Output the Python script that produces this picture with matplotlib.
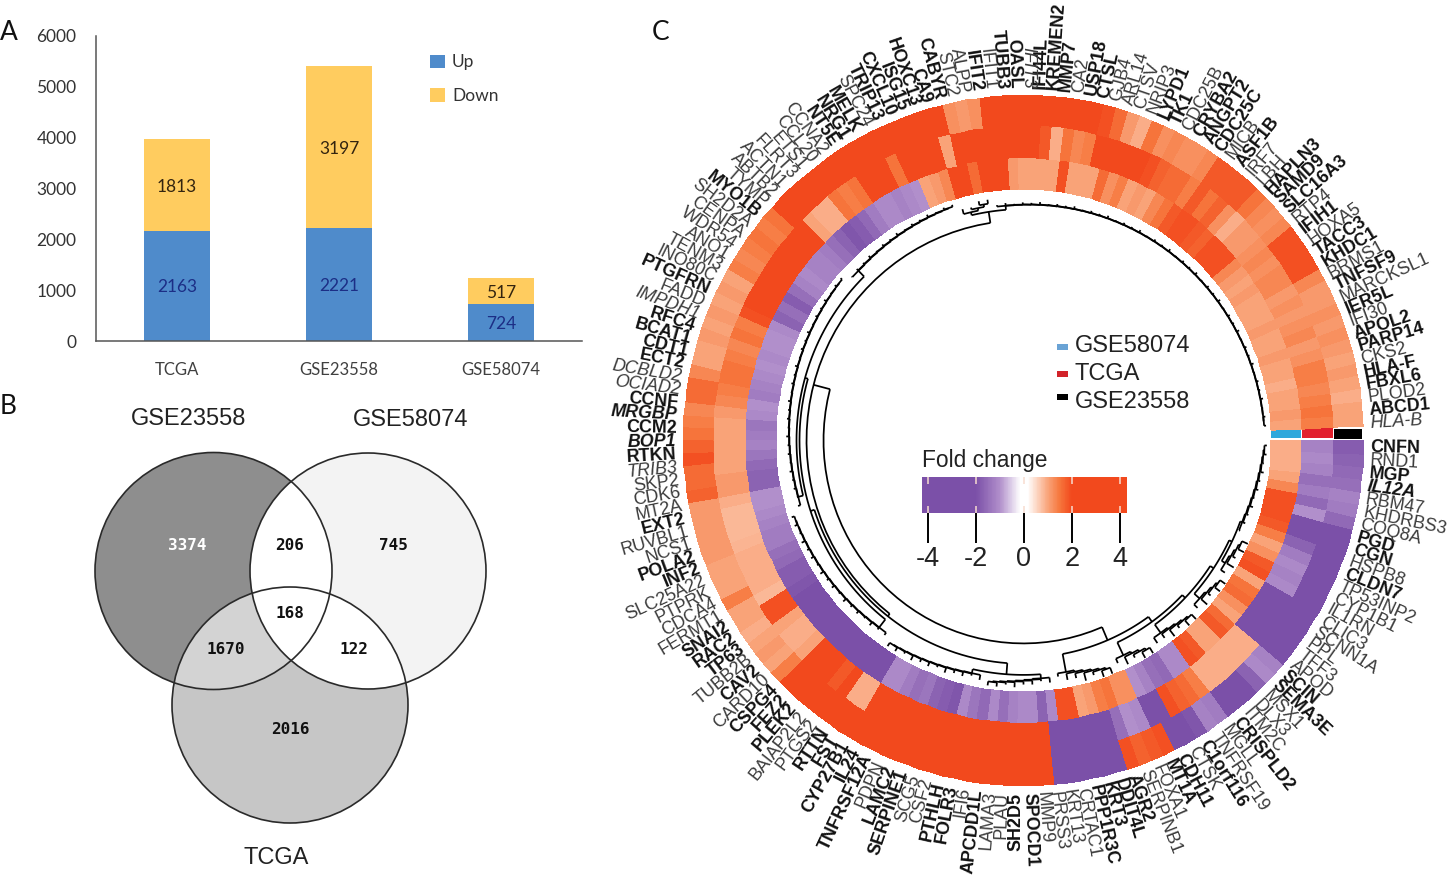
import numpy as np
import matplotlib
matplotlib.use('Agg')
import matplotlib.pyplot as plt
from matplotlib.cm import ScalarMappable
from matplotlib.colors import LinearSegmentedColormap, Normalize
from matplotlib.patches import Circle, Rectangle

W, H = 1450, 883

# A) stacked bars
datasets = ['TCGA', 'GSE23558', 'GSE58074']
up_counts = [2163, 2221, 724]
down_counts = [1813, 3197, 517]

# B) venn
venn_names = ['GSE23558', 'GSE58074', 'TCGA']
venn_counts = [3374, 745, 2016, 206, 1670, 122, 168]

# C) circular heatmap, genes run counter clockwise from the gap at 3 o'clock
genes = ['HLA-B', 'ABCD1', 'PLOD2', 'FBXL6', 'HLA-F', 'CKS2', 'PARP14', 'APOL2', 'IFI30', 'IER5L',
         'MARCKSL1', 'TNFSF9', 'BRMS1', 'KHDC1', 'TACC3', 'HOXA5', 'IFIH1', 'RTP4', 'SLC16A3', 'SAMD9',
         'HAPLN3', 'LBH', 'IRF7', 'ASF1B', 'MICB', 'CDC25C', 'ANGPT2', 'CRYBA2', 'CDC25B', 'TK1',
         'LYPD1', 'NRIP3', 'CTSV', 'ARL14', 'GJB4', 'CTSL', 'USP18', 'CA2', 'MMP7', 'KREMEN2',
         'IFI44L', 'IFIT3', 'OASL', 'TUBB3', 'IFIT1', 'IFIT2', 'ALPP', 'STC2', 'CABYR', 'CA9',
         'HOXC13', 'ISG15', 'CXCL10', 'TRIP13', 'SPC24', 'MELK', 'NRG1', 'NT5E', 'CCNA2', 'CCL20',
         'ETS1', 'FLRT3', 'ACTN1', 'ABTB2', 'TYMP', 'MYO1B', 'SH2D2A', 'CENPA', 'WDR54', 'ANO1',
         'TENM3', 'INO80C', 'PTGFRN', 'FADD', 'IMPDH1', 'RFC4', 'BCAT1', 'CDT1', 'ECT2', 'DCBLD2',
         'OCIAD2', 'CCNF', 'MRGBP', 'CCM2', 'BOP1', 'RTKN', 'TRIB3', 'SKP2', 'CDK6', 'MT2A',
         'EXT2', 'RUVBL1', 'NCS1', 'POLA2', 'INF2', 'SLC25A22', 'PTPRK', 'CDCA4', 'FERMT1', 'SNAI2',
         'RAC2', 'TP63', 'TUBB2B', 'CAV2', 'CARD10', 'CSPG4', 'FEZ2', 'PLEK2', 'BAIAP2L2', 'PTGS2',
         'RTTN', 'FST', 'CYP27B1', 'IL24', 'TNFRSF12A', 'PDPN', 'LAMC2', 'SERPINE1', 'SCG5', 'CSF2',
         'PTHLH', 'FOLR3', 'IFI6', 'APCDD1L', 'LAMA3', 'PLAU', 'SH2D5', 'SPOCD1', 'MMP9', 'PRSS3',
         'KRT13', 'CRTAC1', 'PPP1R3C', 'KRT3', 'DDIT4L', 'AGR2', 'SERPINB1', 'FOXA1', 'MT1A', 'CDH11',
         'CTSK', 'C1orf116', 'TNFRSF19', 'MGLL', 'CRISPLD2', 'ITM2C', 'DLX3', 'MSX1', 'SEMA3E', 'SCIN',
         'APOD', 'TFF3', 'PPL', 'SCNN1A', 'CLIC3', 'IL1RN', 'CYP1B1', 'TP53INP2', 'CLDN7', 'HSPB8',
         'CGN', 'PGD', 'COQ8A', 'KHDRBS3', 'RBM47', 'IL12A', 'MGP', 'RND1', 'CNFN']

bold_genes = ['ABCD1', 'FBXL6', 'HLA-F', 'PARP14', 'APOL2', 'IER5L', 'TNFSF9', 'KHDC1', 'TACC3', 'IFIH1',
              'SLC16A3', 'SAMD9', 'HAPLN3', 'ASF1B', 'CDC25C', 'ANGPT2', 'CRYBA2', 'TK1', 'LYPD1', 'CTSL',
              'USP18', 'MMP7', 'KREMEN2', 'IFI44L', 'OASL', 'TUBB3', 'IFIT2', 'CABYR', 'CA9', 'HOXC13',
              'ISG15', 'CXCL10', 'TRIP13', 'MELK', 'NRG1', 'NT5E', 'MYO1B', 'PTGFRN', 'RFC4', 'BCAT1',
              'CDT1', 'ECT2', 'CCNF', 'MRGBP', 'CCM2', 'BOP1', 'RTKN', 'EXT2', 'POLA2', 'INF2', 'SNAI2',
              'RAC2', 'TP63', 'CAV2', 'CSPG4', 'FEZ2', 'PLEK2', 'RTTN', 'FST', 'CYP27B1', 'IL24',
              'TNFRSF12A', 'LAMC2', 'SERPINE1', 'PTHLH', 'FOLR3', 'APCDD1L', 'SH2D5', 'SPOCD1', 'PPP1R3C',
              'KRT3', 'DDIT4L', 'AGR2', 'MT1A', 'CDH11', 'C1orf116', 'CRISPLD2', 'SEMA3E', 'SCIN', 'PGD',
              'CGN', 'CLDN7', 'IL12A', 'MGP', 'CNFN']
italic_genes = ['HLA-B', 'IFIT3', 'BOP1', 'TRIB3', 'IMPDH1', 'DCBLD2', 'OCIAD2', 'MRGBP', 'IL12A']

fc_gse23558 = [1.0, 1.0, 0.9, 1.0, 1.1, 1.0, 1.1, 1.2, 1.1, 1.2,
               1.1, 1.1, 1.3, 1.9, 1.9, 1.9, 1.9, 1.3, 1.2, 1.3,
               1.5, 1.8, 1.8, 1.8, 1.8, 1.3, 1.2, 1.2, 1.3, 1.2,
               1.5, 0.9, 1.1, 1.6, 1.9, 2, 2, 2, 2, 2,
               2, 2, 2, 2, 2, 1.2, 1.1, 1.2, 2, 2,
               2, 2, 2, 2, 2, 2, 2, 2, 2, 2,
               2, 2, 2, 2, 1.5, 1.4, 1.5, 1.4, 1.3, 1.4,
               1.0, 1.1, 1.0, 1.1, 1.0, 1.1, 1.0, 1.0, 1.3, 1.6,
               1.6, 1.3, 1.4, 1.5, 1.7, 1.9, 1.6, 1.6, 1.7, 1.1,
               1.1, 1.1, 1.1, 1.1, 1.0, 1.0, 1.0, 1.4, 1.0, 1.0,
               0.9, 1.0, 1.1, 1.0, 1.4, 2, 2, 2, 2, 2,
               2, 2, 2, 2, 2, 2, 2, 2, 2, 2,
               2, 2, 2, 2, 2, 2, 2, 2, 2, -2,
               -2, -2, -2, -2, -2, 1.9, 1.7, 1.8, 1.9, -2,
               -2, -1.9, -1.2, -1.3, -2, -2, -2, -1.7, -1.1, -1.2,
               -2, -2, -2, -2, -2, -2, -2, -2, -2, -2,
               -2, -2, -1.6, -1.3, -1.2, -1.5, -1.6, -1.7, -1.8]
fc_tcga = [1.4, 1.5, 1.4, 1.3, 1.4, 1.4, 1.2, 1.1, 1.3, 1.2,
           1.1, 1.2, 1.1, 1.3, 1.3, 1.2, 1.3, 1.2, 1.1, 1.1,
           0.9, 1.2, 1.7, 1.5, 1.8, 1.4, 1.6, 1.6, 1.7, 1.9,
           2, 2, 2, 2, 2, 1.4, 1.3, 1.5, 0.9, 1.8,
           2, 2, 2, 2, 2, 2, 2, 2, 1.0, 2,
           2, 2, 2, 1.5, 2, 2, 2, 1.5, 1.4, 1.5,
           0.9, 0.9, 1.0, 2, 2, 2, 2, 2, 2, 2,
           2, 2, 1.9, 1.4, 1.5, 1.3, 1.4, 1.5, 1.5, 1.4,
           1.3, 1.1, 1.0, 1.0, 1.0, 1.0, 1.0, 1.1, 1.1, 0.9,
           0.8, 0.8, 0.8, 0.85, 0.9, 0.9, 0.9, 0.9, 0.8, 1.9,
           1.9, 1.0, 0.9, 0.9, 1.0, 2, 2, 2, 1.8, 2,
           0.9, 0.9, 2, 2, 2, 2, 2, 2, 2, 2,
           2, 2, 2, 2, 2, 2, 2, 2, 2, -2,
           -2, -2, -2, -2, -2, -1.5, -1.0, -1.1, -2, -2,
           1.9, 1.7, 1.6, 1.4, 0.9, 0.9, 0.9, 0.9, 0.9, 0.9,
           -2, -2, -2, -2, -2, -1.1, -1.2, -1.1, -1.3, -1.7,
           -2, -2, -1.0, -1.6, -1.3, -1.5, -1.2, -1.1, -1.2]
fc_gse58074 = [1.0, 1.1, 1.0, 1.0, 0.9, 1.0, 1.0, 1.1, 1.0, 1.0,
               1.1, 1.0, 1.0, 1.0, 1.1, 1.0, 1.1, 1.3, 1.9, 1.9,
               1.9, 1.7, 1.8, 1.9, 1.9, 1.8, 1.5, 1.3, 1.0, 1.1,
               1.0, 1.4, 1.2, 1.6, 1.0, 1.0, 1.0, 1.9, 1.0, 1.0,
               1.0, 1.0, 1.1, 2, 2, 2, 1.6, 2, 2, 1.3,
               1.1, 1.0, -1.0, -1.1, -1.2, -1.1, -1.1, -1.3, -1.6, -1.8,
               -1.9, -1.7, -1.5, -1.3, -1.2, -1.2, -1.1, -1.2, -1.5, -1.8,
               -1.5, -1.7, -1.1, -1.0, -1.0, -1.1, -1.0, -1.1, -1.2, -1.3,
               -1.0, -1.1, -1.4, -1.3, -1.2, -1.4, -1.6, -1.7, -1.7, -1.0,
               -1.0, -1.1, -1.2, -1.3, -1.3, -1.5, -1.6, -1.8, -1.8, -1.9,
               -2, -2, -2, -2, -2, -2, -2, -2, -2, -2,
               -2, -2, -1.1, -1.1, -1.3, -1.5, -1.4, -1.7, -1.8, -1.9,
               -1.1, -1.4, -1.6, -1.1, -1.5, -1.2, -1.1, -1.1, -1.7, -1.1,
               1.9, 1.9, 1.0, 1.1, 1.4, 1.5, 1.2, 1.2, -1.0, -1.2,
               -1.5, -1.6, -1.1, -1.1, 1.9, 1.8, 1.0, 1.0, 1.8, 1.6,
               1.0, 1.2, 1.6, 1.5, 1.0, 1.9, 1.8, 1.2, 1.0, 1.4,
               1.8, 1.9, 1.9, 1.9, 1.3, 1.0, 0.9, 0.9, 0.9]

legend_sets = ['GSE58074', 'TCGA', 'GSE23558']
legend_colors = ['#6AA3D5', '#D2232A', '#000000']
strip_colors = ['#2FA8DC', '#E2202C', '#000000']
fc_ticks = [-4, -2, 0, 2, 4]
fc_ticklabels = ['-4', '-2', '0', '2', '4']

# dendrogram, each comb is a run of genes hanging on a ladder of arcs
comb_first = [0, 45, 49, 64, 92, 110, 122, 130, 137, 142, 148, 153, 158]
comb_last = [44, 48, 63, 91, 109, 121, 129, 136, 141, 147, 152, 157, 168]
comb_r_out = [241, 236, 241, 241, 241, 240, 240, 240, 240, 240, 240, 240, 241]
comb_r_in = [232, 231, 235, 232, 234, 235, 235, 232, 234, 234, 235, 235, 233]
comb_reverse = [0, 0, 0, 0, 0, 0, 0, 1, 1, 1, 1, 1, 1]
comb_tooth = [0.5, 1, 0.5, 0.5, 0.7, 1, 1, 1.6, 1.6, 1.6, 1.6, 1.6, 0.6]
teeth = [4, 2, 5, 3]


plt.rcParams['font.family'] = 'Liberation Sans'


def px_axes(x0, y0, x1, y1, **kw):
    # box in picture pixels, y going down
    return fig.add_axes([x0 / W, 1 - y1 / H, (x1 - x0) / W, (y1 - y0) / H], **kw)


fig = plt.figure(figsize=(W / 100, H / 100), dpi=100, facecolor='white')

# overlay in pixels for letters, venn and legends
ov = px_axes(0, 0, W, H)
ov.set_xlim(0, W)
ov.set_ylim(H, 0)
ov.axis('off')
for letter, x, y in [('A', 9, 32), ('B', 8, 406), ('C', 661, 32)]:
    ov.text(x, y, letter, family='Lato', fontsize=19, ha='center', va='center', color='#111111')

# ---- A ----
ax_a = px_axes(96, 36, 582, 341)
x = np.arange(len(datasets))
ax_a.bar(x, up_counts, width=0.405, color='#4F8BCB', label='Up')
ax_a.bar(x, down_counts, width=0.405, bottom=up_counts, color='#FFCC5F', label='Down')
for i in range(len(datasets)):
    ax_a.text(x[i], up_counts[i] / 2 - 25, str(up_counts[i]), ha='center', va='center',
              family='Lato', fontsize=12.5, color='#1C2E86')
    ax_a.text(x[i], up_counts[i] + down_counts[i] / 2 - 35, str(down_counts[i]), ha='center', va='center',
              family='Lato', fontsize=12.5, color='#33240F')
ax_a.set_xlim(-0.5, 2.5)
ax_a.set_ylim(0, 6000)
ax_a.set_xticks(x)
ax_a.set_xticklabels(datasets, family='Lato', fontsize=12, color='#404040')
ax_a.set_yticks(np.arange(0, 7000, 1000))
ax_a.tick_params(axis='x', length=0, pad=15)
ax_a.tick_params(axis='y', length=0, pad=14)
for lab in ax_a.get_yticklabels():
    lab.set_family('Lato')
    lab.set_fontsize(12.5)
    lab.set_color('#333333')
ax_a.spines['top'].set_visible(False)
ax_a.spines['right'].set_visible(False)
ax_a.spines['left'].set_color('#555555')
ax_a.spines['bottom'].set_color('#555555')
ax_a.spines['left'].set_linewidth(1.1)
ax_a.spines['bottom'].set_linewidth(1.1)
ax_a.legend(loc='upper left', bbox_to_anchor=(0.67, 0.968), frameon=False, handlelength=0.85,
            handleheight=0.85, handletextpad=0.4, labelspacing=1.0, borderpad=0,
            prop={'family': 'Lato', 'size': 12.5}, labelcolor='#333333')

# ---- B ----
c_left = (213.5, 571, 118.5)
c_right = (368, 571, 118)
c_bottom = (290, 705, 118)


def disc(c, **kw):
    patch = Circle((c[0], c[1]), c[2], **kw)
    ov.add_patch(patch)
    return patch


disc(c_left, fc='#8E8E8E', ec='none')
disc(c_right, fc='#F3F3F3', ec='none')
disc(c_bottom, fc='#C6C6C6', ec='none')
overlap = disc(c_left, fc='#D3D3D3', ec='none')
overlap.set_clip_path(Circle((c_bottom[0], c_bottom[1]), c_bottom[2], transform=ov.transData))
overlap = disc(c_left, fc='white', ec='none')
overlap.set_clip_path(Circle((c_right[0], c_right[1]), c_right[2], transform=ov.transData))
overlap = disc(c_bottom, fc='white', ec='none')
overlap.set_clip_path(Circle((c_right[0], c_right[1]), c_right[2], transform=ov.transData))
for c in (c_left, c_right, c_bottom):
    disc(c, fc='none', ec='#2A2A2A', lw=1.2)

venn_xy = [(187, 545), (393, 545), (290, 729), (290, 545), (226, 650), (354, 650), (290, 614)]
for n, (vx, vy) in zip(venn_counts, venn_xy):
    ov.text(vx, vy, str(n), family='DejaVu Sans Mono', weight='bold', fontsize=11.5, ha='center', va='center',
            color='white' if n == 3374 else '#111111')
for name, vx, vy in zip(venn_names, (189, 411, 276), (419, 420, 858)):
    ov.text(vx, vy, name, fontsize=17, ha='center', va='center', color='#222222')

# ---- C ----
cx, cy = 1023.5, 440.5
rmax = 380
ax_c = px_axes(cx - rmax, cy - rmax * 345 / 340, cx + rmax, cy + rmax * 345 / 340, projection='polar')
ax_c.set_aspect('auto')
ax_c.set_ylim(0, rmax)
ax_c.axis('off')

purple = '#7B50A8'
deep = '#F2491D'
fc_low, fc_high = -4.25, 4.3
norm = Normalize(fc_low, fc_high)


def node(v):
    return (v - fc_low) / (fc_high - fc_low)


cmap = LinearSegmentedColormap.from_list('fold', [(0, purple), (node(-2), purple), (node(-1), '#B18FCB'),
                                                  (node(-0.15), 'white'), (node(0.15), 'white'),
                                                  (node(1), '#F9A47A'), (node(1.5), '#F6763C'),
                                                  (node(2), deep), (1, deep)])

n_genes = len(genes)
start_deg = 2.4
step_deg = (359.9 - start_deg) / n_genes
edges = np.radians(start_deg + step_deg * np.arange(n_genes + 1))
centers = (edges[:-1] + edges[1:]) / 2
ring_edges = [248, 279, 311, 340]
for k, vals in enumerate((fc_gse58074, fc_tcga, fc_gse23558)):
    ax_c.pcolormesh(edges, ring_edges[k:k + 2], np.array(vals)[None, :], cmap=cmap, norm=norm,
                    shading='flat', edgecolors='face', linewidth=0.2)

# header strip sits flat across the rings
for k, col in enumerate(strip_colors):
    sx0 = cx + ring_edges[k]
    sx1 = cx + ring_edges[k + 1]
    ov.add_patch(Rectangle((sx0, 428 + (1 if k == 2 else 0)), sx1 - sx0 - 1, 10, fc=col, ec='none', zorder=5))

for g, th in zip(genes, centers):
    deg = np.degrees(th)
    right = deg < 90 or deg > 270
    # labels sit a little behind their cells over most of the circle
    th_lab = np.radians(deg - np.interp(deg, [0, 180, 270, 320, 360], [0.7, 1.0, 1.3, 0, 0]))
    ax_c.text(th_lab, 347, g, rotation=deg if right else deg - 180, rotation_mode='anchor',
              ha='left' if right else 'right', va='center', fontsize=12.9,
              weight='bold' if g in bold_genes else 'normal',
              style='italic' if g in italic_genes else 'normal',
              color='#111111' if g in bold_genes else '#3C3C3C')


def arc(t0, t1, r):
    ax_c.plot(np.linspace(t0, t1, 40), np.full(40, r), color='black', lw=1.25, solid_capstyle='butt')


def spoke(t, r0, r1):
    ax_c.plot([t, t], [r0, r1], color='black', lw=1.25, solid_capstyle='butt')


def draw_comb(k):
    leaves = list(range(comb_first[k], comb_last[k] + 1))
    if comb_reverse[k]:
        leaves = leaves[::-1]
    pos = centers[leaves[0]]
    r_prev = comb_r_out[k] + teeth[0] * comb_tooth[k]
    steps = max(len(leaves) - 2, 1)
    for j, leaf in enumerate(leaves[1:]):
        r = comb_r_out[k] + (comb_r_in[k] - comb_r_out[k]) * j / steps
        arc(pos, centers[leaf], r)
        spoke(pos, r_prev, r)
        spoke(centers[leaf], r + teeth[j % 4] * comb_tooth[k], r)
        pos = (pos + centers[leaf]) / 2
        r_prev = r
    return pos, r_prev


def merge(a, b, r):
    arc(a[0], b[0], r)
    spoke(a[0], a[1], r)
    spoke(b[0], b[1], r)
    return (a[0] + b[0]) / 2, r


combs = [draw_comb(k) for k in range(len(comb_first))]

left_top = merge(combs[0], combs[1], 228)
left_mid = merge(combs[2], combs[3], 227)
left_low = merge(left_mid, combs[4], 224)
bottom = merge(combs[5], combs[6], 231)
left_all = merge(left_low, bottom, 220)
left_tree = merge(left_top, left_all, 217)

right_a = merge(combs[11], combs[12], 231)
right_b = merge(combs[10], right_a, 228)
right_c = merge(combs[9], right_b, 224)
right_d = merge(combs[8], right_c, 220)
right_tree = merge(combs[7], right_d, 214)
merge(left_tree, right_tree, 200)

# legend of the three sets
for name, col, ly, py in zip(legend_sets, legend_colors, (346, 374, 402), (347, 374, 397)):
    ov.add_patch(Rectangle((1057, py - 3), 11, 6, fc=col, ec='none'))
    ov.text(1075, ly, name, fontsize=17, ha='left', va='center', color='#222222')

# fold change colour key
cax = px_axes(922, 477, 1127, 513)
cb = fig.colorbar(ScalarMappable(norm=norm, cmap=cmap), cax=cax, orientation='horizontal')
cb.outline.set_visible(False)
cb.set_ticks(fc_ticks)
cb.set_ticklabels(fc_ticklabels)
cax.tick_params(axis='x', length=21.5, width=1.4, pad=2, labelsize=19.5, color='black', labelcolor='#222222')
cax.vlines(fc_ticks, 0, 0.2, color='#F8DCCF', lw=1.1)
cax.vlines(fc_ticks, 0.8, 1, color='#F8DCCF', lw=1.1)
ov.text(922, 461, 'Fold change', fontsize=16.4, ha='left', va='center', color='#222222')

fig.savefig('out.png', dpi=100)
